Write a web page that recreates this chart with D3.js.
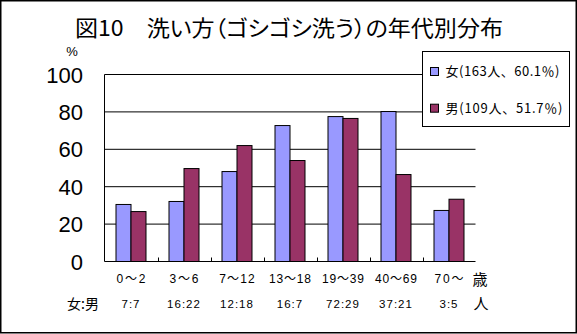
<!DOCTYPE html>
<html><head><meta charset="utf-8">
<script src="https://cdn.jsdelivr.net/npm/d3@7"></script>
<style>
html,body{margin:0;padding:0;background:#fff;}
svg{display:block;}
.cjk{font-family:"Noto Sans CJK JP","Noto Sans CJK SC",sans-serif;}
.num{font-family:"Liberation Sans","Noto Sans CJK JP",sans-serif;}
</style>
</head><body>
<script>
const title = "図10　洗い方（ゴシゴシ洗う）の年代別分布";
const categories = ["0～2","3～6","7～12","13～18","19～39","40～69","70～"];
const ratios = ["7:7","16:22","12:18","16:7","72:29","37:21","3:5"];
const seriesNames = ["女(163人、60.1％)","男(109人、51.7％)"];
const female = [30.5, 32.1, 48.1, 72.7, 77.5, 80.2, 27.3];
const male = [26.7, 49.7, 62.0, 54.0, 76.5, 46.5, 33.3];
const yTicks = [0, 20, 40, 60, 80, 100];
const colors = ["#9999FF", "#993366"];

const W = 577, H = 334;
const svg = d3.select("body").append("svg").attr("width", W).attr("height", H);
svg.append("rect").attr("x",0).attr("y",0).attr("width",W).attr("height",H).attr("fill","#fff");
svg.append("rect").attr("x",0.75).attr("y",0.75).attr("width",575.5).attr("height",332)
  .attr("fill","none").attr("stroke","#000").attr("stroke-width",1.5);

// title
svg.append("text").attr("class","cjk").attr("x",75).attr("y",36)
  .attr("font-size",22).attr("fill","#000")
  .style("font-feature-settings","'palt'")
  .attr("textLength",428).attr("lengthAdjust","spacingAndGlyphs")
  .text(title);

const x = d3.scaleBand().domain(categories).range([104.5, 475.5]).paddingInner(0).paddingOuter(0);
const x1 = d3.scaleBand().domain([0,1]).range([0, x.bandwidth()]).paddingInner(0).paddingOuter(0.767);
const y = d3.scaleLinear().domain([0,100]).range([261.5, 74.5]);

// gridlines
svg.append("g").selectAll("line").data(yTicks.filter(d=>d>0)).join("line")
  .attr("x1",104.5).attr("x2",475.5).attr("y1",d=>y(d)).attr("y2",d=>y(d))
  .attr("stroke","#000").attr("stroke-width",1);

// bars
const data = categories.map((c,i)=>({c, vals:[female[i], male[i]]}));
const g = svg.append("g").selectAll("g").data(data).join("g")
  .attr("transform", d=>`translate(${x(d.c)},0)`);
g.selectAll("rect").data(d=>d.vals.map((v,k)=>({v,k}))).join("rect")
  .attr("x", d=>x1(d.k)).attr("width", x1.bandwidth())
  .attr("y", d=>y(d.v)).attr("height", d=>y(0)-y(d.v))
  .attr("fill", d=>colors[d.k]).attr("stroke","#000").attr("stroke-width",1);

// axes
svg.append("line").attr("x1",104.5).attr("x2",104.5).attr("y1",y(100)).attr("y2",y(0)).attr("stroke","#000");
svg.append("line").attr("x1",104.5).attr("x2",475.5).attr("y1",y(0)).attr("y2",y(0)).attr("stroke","#000");
svg.append("g").selectAll("line").data(categories.slice(1)).join("line")
  .attr("x1",d=>Math.round(x(d))+0.5).attr("x2",d=>Math.round(x(d))+0.5)
  .attr("y1",y(0)).attr("y2",y(0)-4).attr("stroke","#000");

// y labels
svg.append("g").selectAll("text").data(yTicks).join("text").attr("class","num")
  .attr("x",83).attr("y",d=>y(d)+8).attr("text-anchor","end")
  .attr("font-size",22).attr("fill","#000").text(d=>d);
svg.append("text").attr("class","num").attr("x",72).attr("y",56).attr("text-anchor","middle")
  .attr("font-size",13).attr("fill","#000").text("%");

// category labels
svg.append("g").selectAll("text").data(categories).join("text").attr("class","num")
  .attr("x",d=>x(d)+x.bandwidth()/2).attr("y",283).attr("text-anchor","middle")
  .attr("font-size",12).attr("fill","#000")
  .attr("textLength",d=>d.replace("～","").length*6.5+16).attr("lengthAdjust","spacing")
  .text(d=>d);
svg.append("g").selectAll("text").data(ratios).join("text").attr("class","num")
  .attr("x",(d,i)=>x(categories[i])+x.bandwidth()/2).attr("y",308).attr("text-anchor","middle")
  .attr("font-size",11.5).attr("letter-spacing",1).attr("fill","#000").text(d=>d);
svg.append("text").attr("class","cjk").attr("x",480).attr("y",285).attr("text-anchor","middle")
  .attr("font-size",15).attr("fill","#000").text("歳");
svg.append("text").attr("class","cjk").attr("x",481).attr("y",309).attr("text-anchor","middle")
  .attr("font-size",15).attr("fill","#000").text("人");
svg.append("text").attr("class","cjk").attr("x",83).attr("y",309).attr("text-anchor","middle")
  .attr("font-size",14).attr("fill","#000").text("女:男");

// legend
const lg = svg.append("g");
lg.append("rect").attr("x",422.5).attr("y",51.5).attr("width",147).attr("height",75)
  .attr("fill","#fff").attr("stroke","#000");
const li = lg.selectAll("g").data(seriesNames).join("g")
  .attr("transform",(d,i)=>`translate(0,${i*36.7})`);
li.append("rect").attr("x",430.5).attr("y",67.5).attr("width",8).attr("height",8)
  .attr("fill",(d,i)=>colors[i]).attr("stroke","#000");
li.append("text").attr("class","cjk").attr("x",445.5).attr("y",76)
  .attr("font-size",13).attr("fill","#000")
  .attr("textLength",(d,i)=>i?117:114).attr("lengthAdjust","spacing")
  .text(d=>d);
</script>
</body></html>
